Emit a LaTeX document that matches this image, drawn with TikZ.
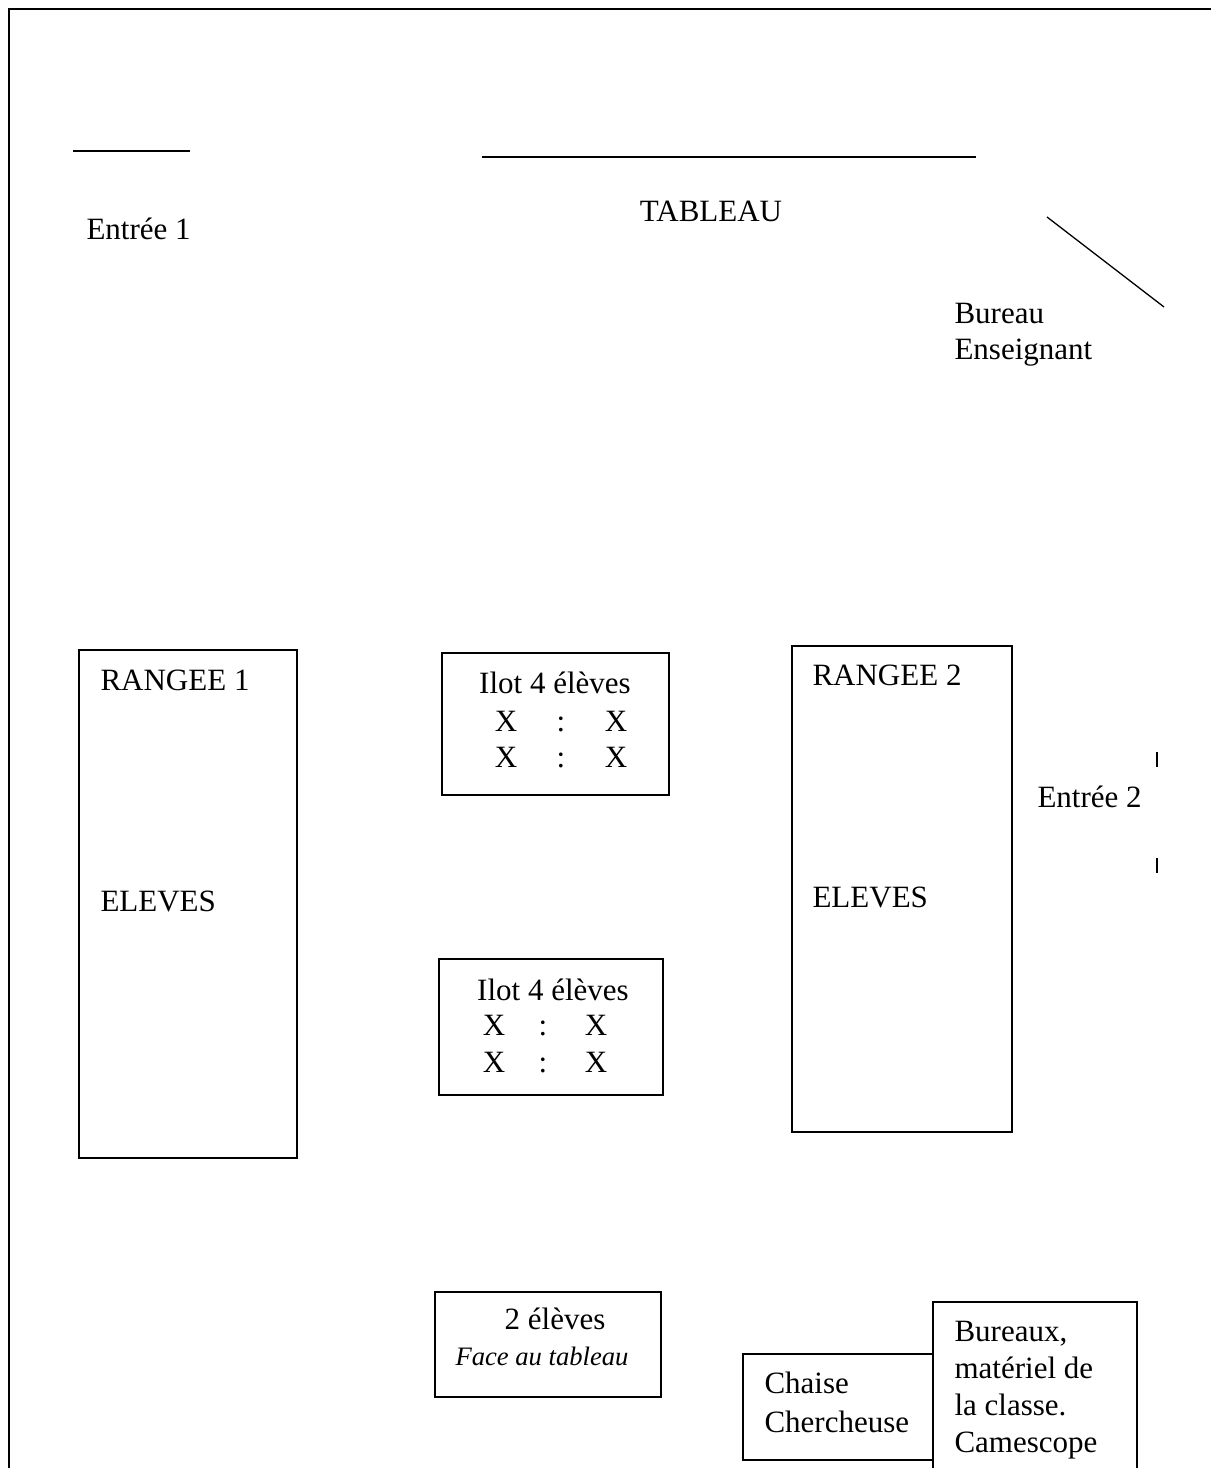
\documentclass[tikz,border=0pt]{standalone}
\usepackage{fontspec}
\setmainfont{Liberation Serif}
\begin{document}
\begin{tikzpicture}[x=0.387pt,y=-0.387pt,
        wall/.style={line width=1pt},
        furniture/.style={draw,line width=0.65pt},
        thin line/.style={line width=0.5pt},
        word/.style={inner sep=0pt,anchor=base west,font=\fontsize{12}{13.8}\selectfont},
        mid word/.style={word,anchor=base}]

        \useasboundingbox (0,0) rectangle (1211,1468);

        \draw[wall] (9,1470) -- (9,9) -- (1211,9);
        \draw[wall] (73,151) -- (190,151);
        \draw[wall] (482,157) -- (976,157);
        \draw[thin line] (1047,217) -- (1164,307);
        \draw[thin line] (1157,752) -- (1157,767);
        \draw[thin line] (1157,858) -- (1157,873);

        \node[mid word] (tableau) at (711,222) {TABLEAU};
        \node[word] (entreeone) at (86,240) {Entrée 1};
        \node[word] (bureau) at (954,324) {Bureau};
        \node[word] (enseignant) at (954,360) {Enseignant};
        \node[word] (entreetwo) at (1037,807) {Entrée 2};

        \draw[furniture] (79,650) rectangle (297,1158);
        \node[word] (rangeeone) at (100,690) {RANGEE 1};
        \node[word] (elevesone) at (100,911) {ELEVES};

        \draw[furniture] (792,646) rectangle (1012,1132);
        \node[word] (rangeetwo) at (812,685) {RANGEE 2};
        \node[word] (elevestwo) at (812,907) {ELEVES};

        \draw[furniture] (442,653) rectangle (669,795);
        \node[mid word] (ilotone) at (555,693) {Ilot 4 élèves};
        \foreach \yy/\n in {731/a,767/b} {
            \node[mid word] (ilotone-\n-l) at (506,\yy) {X};
            \node[mid word] (ilotone-\n-c) at (561,\yy) {:};
            \node[mid word] (ilotone-\n-r) at (616,\yy) {X};
        }

        \draw[furniture] (439,959) rectangle (663,1095);
        \node[mid word] (ilottwo) at (553,1000) {Ilot 4 élèves};
        \foreach \yy/\n in {1035/a,1072/b} {
            \node[mid word] (ilottwo-\n-l) at (494,\yy) {X};
            \node[mid word] (ilottwo-\n-c) at (543,\yy) {:};
            \node[mid word] (ilottwo-\n-r) at (596,\yy) {X};
        }

        \draw[furniture] (435,1292) rectangle (661,1397);
        \node[mid word] (deuxeleves) at (555,1329) {2 élèves};
        \node[mid word,font=\fontsize{10.3}{12}\selectfont\itshape] (face) at (542,1365) {Face au tableau};

        \draw[furniture] (743,1354) rectangle (933,1460);
        \node[word] (chaise) at (764,1393) {Chaise};
        \node[word] (chercheuse) at (764,1432) {Chercheuse};

        \draw[furniture,fill=white] (933,1480) rectangle (1137,1302);
        \node[word] (bureaux) at (954,1341) {Bureaux,};
        \node[word] (materiel) at (954,1378) {matériel de};
        \node[word] (classe) at (954,1415) {la classe.};
        \node[word] (camescope) at (954,1452) {Camescope};
    \end{tikzpicture}
\end{document}
